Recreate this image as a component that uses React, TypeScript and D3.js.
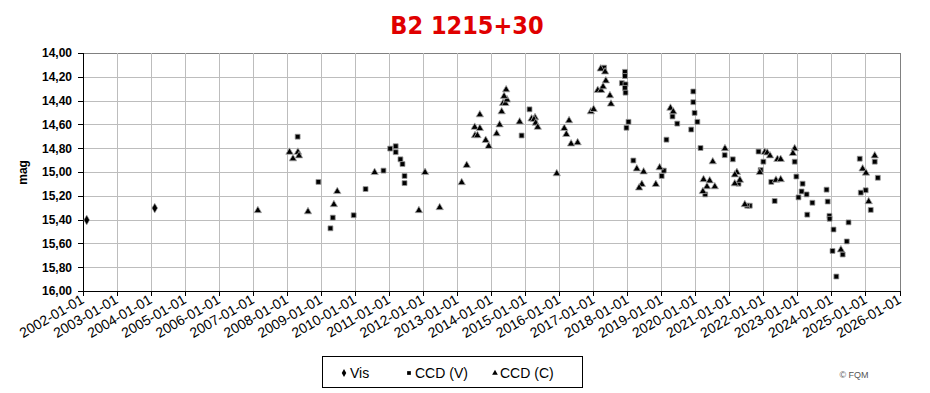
import React from 'react';
import * as d3 from 'd3';

const chartTitle = 'B2 1215+30';
const yAxisTitle = 'mag';
const yTicks = [14.0, 14.2, 14.4, 14.6, 14.8, 15.0, 15.2, 15.4, 15.6, 15.8, 16.0];
const xTickLabels = [
  '2002-01-01', '2003-01-01', '2004-01-01', '2005-01-01', '2006-01-01', '2007-01-01',
  '2008-01-01', '2009-01-01', '2010-01-01', '2011-01-01', '2012-01-01', '2013-01-01',
  '2014-01-01', '2015-01-01', '2016-01-01', '2017-01-01', '2018-01-01', '2019-01-01',
  '2020-01-01', '2021-01-01', '2022-01-01', '2023-01-01', '2024-01-01', '2025-01-01',
  '2026-01-01',
];
const legendLabels = ['Vis', 'CCD (V)', 'CCD (C)'];
const credit = '© FQM';

const visDates = ['2002-02-10', '2004-02-10'];
const visMags = [15.4, 15.3];

const ccdVData: [string, number][] = [
  ['2008-04-22', 14.70], ['2008-12-01', 15.08], ['2009-05-04', 15.38], ['2009-04-09', 15.47],
  ['2009-12-14', 15.36], ['2010-04-21', 15.14], ['2010-10-30', 14.985], ['2011-01-10', 14.80],
  ['2011-03-10', 14.78], ['2011-03-10', 14.83], ['2011-04-30', 14.89], ['2011-05-22', 14.93],
  ['2011-06-13', 15.03], ['2011-06-13', 15.09], ['2014-11-20', 14.69], ['2015-02-13', 14.47],
  ['2017-04-23', 14.12], ['2017-12-03', 14.155], ['2017-12-03', 14.19], ['2017-10-31', 14.25],
  ['2017-12-09', 14.26], ['2017-12-03', 14.29], ['2017-12-09', 14.33], ['2018-01-10', 14.575],
  ['2017-12-19', 14.625], ['2018-03-03', 14.90], ['2019-01-24', 14.985], ['2019-01-01', 15.03],
  ['2019-04-27', 14.53], ['2019-06-17', 14.59], ['2019-02-21', 14.725], ['2019-12-06', 14.32],
  ['2019-12-06', 14.41], ['2019-12-20', 14.50], ['2020-01-19', 14.575], ['2019-11-14', 14.64],
  ['2020-02-22', 14.795], ['2020-04-12', 15.185], ['2020-11-07', 14.855], ['2021-02-02', 14.89],
  ['2021-04-05', 15.095], ['2021-08-03', 15.28], ['2021-07-06', 15.28], ['2021-11-05', 14.825],
  ['2021-12-27', 14.91], ['2021-11-28', 14.98], ['2022-03-22', 15.08], ['2022-04-27', 15.24],
  ['2022-11-28', 14.91], ['2022-12-16', 15.035], ['2023-02-21', 15.095], ['2023-02-10', 15.16],
  ['2023-04-05', 15.185], ['2023-01-08', 15.21], ['2023-06-06', 15.255], ['2023-04-12', 15.355],
  ['2023-11-05', 15.145], ['2023-11-17', 15.245], ['2023-12-06', 15.365], ['2023-12-08', 15.39],
  ['2024-01-19', 15.48], ['2024-01-08', 15.66], ['2024-02-18', 15.875], ['2024-06-28', 15.42],
  ['2024-06-09', 15.58], ['2024-04-26', 15.69], ['2024-10-26', 14.885], ['2025-04-05', 14.91],
  ['2025-05-08', 15.045], ['2024-12-29', 15.15], ['2024-11-06', 15.17], ['2025-02-21', 15.315],
];

const ccdCData: [string, number][] = [
  ['2007-02-20', 15.32], ['2008-01-26', 14.83], ['2008-04-25', 14.83], ['2008-03-03', 14.885],
  ['2008-05-07', 14.86], ['2008-08-11', 15.33], ['2009-05-16', 15.27], ['2009-06-21', 15.16],
  ['2010-07-27', 15.00], ['2011-11-14', 15.32], ['2012-01-19', 15.00], ['2012-06-24', 15.295],
  ['2013-02-15', 15.085], ['2013-04-10', 14.94], ['2013-08-29', 14.515], ['2013-07-05', 14.62],
  ['2013-08-29', 14.63], ['2013-07-08', 14.69], ['2013-08-03', 14.69], ['2013-10-31', 14.73],
  ['2013-12-02', 14.78], ['2014-02-25', 14.675], ['2014-03-29', 14.60], ['2014-04-20', 14.49],
  ['2014-05-05', 14.42], ['2014-05-30', 14.42], ['2014-06-17', 14.39], ['2014-05-16', 14.36],
  ['2014-06-07', 14.305], ['2014-10-30', 14.575], ['2015-03-07', 14.55], ['2015-04-13', 14.54],
  ['2015-04-02', 14.555], ['2015-04-20', 14.585], ['2015-05-12', 14.62], ['2015-12-02', 15.01],
  ['2016-02-21', 14.63], ['2016-04-12', 14.565], ['2016-03-14', 14.68], ['2016-05-04', 14.76],
  ['2016-07-13', 14.75], ['2016-12-02', 14.49], ['2017-01-01', 14.47], ['2017-02-14', 14.31],
  ['2017-03-18', 14.13], ['2017-05-04', 14.155], ['2017-05-12', 14.23], ['2017-03-22', 14.31],
  ['2017-04-12', 14.28], ['2017-06-25', 14.355], ['2017-07-06', 14.425], ['2018-04-09', 14.97],
  ['2018-06-21', 14.995], ['2018-06-02', 15.10], ['2018-05-04', 15.13], ['2018-10-30', 15.10],
  ['2018-12-10', 14.96], ['2019-04-05', 14.46], ['2019-05-05', 14.49], ['2020-03-25', 15.06],
  ['2020-05-30', 15.07], ['2020-05-01', 15.12], ['2020-07-24', 15.12], ['2020-03-18', 15.16],
  ['2020-07-02', 14.91], ['2020-11-10', 14.80], ['2021-03-18', 15.00], ['2021-02-24', 15.02],
  ['2021-04-19', 15.065], ['2021-02-23', 15.095], ['2021-06-11', 15.27], ['2022-01-11', 14.83],
  ['2022-02-06', 14.835], ['2022-03-08', 14.86], ['2021-11-19', 15.00], ['2022-05-27', 14.89],
  ['2022-07-01', 14.89], ['2022-05-11', 15.065], ['2022-07-01', 15.06], ['2022-11-28', 14.80],
  ['2022-11-09', 14.84], ['2025-04-05', 14.86], ['2024-11-26', 14.97], ['2025-01-01', 15.005],
  ['2025-01-30', 15.245], ['2024-04-07', 15.65],
];

const W = 930;
const H = 393;
const plot = { left: 83, right: 900, top: 53.4, bottom: 291.4 };
const parse = d3.utcParse('%Y-%m-%d');

export default function App() {
  const x = d3.scaleUtc()
    .domain([parse(xTickLabels[0])!, parse(xTickLabels[xTickLabels.length - 1])!])
    .range([plot.left, plot.right]);
  const y = d3.scaleLinear().domain([14, 16]).range([plot.top, plot.bottom]);
  const fmt = (v: number) => d3.format('.2f')(v).replace('.', ',');

  const diamond = d3.symbol(d3.symbolDiamond, 28)()!;
  const square = d3.symbol(d3.symbolSquare, 24)()!;
  const triangle = d3.symbol(d3.symbolTriangle, 24)()!;
  const diamondL = d3.symbol(d3.symbolDiamond, 18)()!;
  const squareL = d3.symbol(d3.symbolSquare, 14)()!;
  const triangleL = d3.symbol(d3.symbolTriangle, 14)()!;

  const font = '"Liberation Sans", Arial, sans-serif';

  return (
    <svg width={W} height={H} style={{ position: 'absolute', left: 0, top: 0, background: '#fff' }}
      fontFamily={font}>
      <rect x={0} y={0} width={W} height={H} fill="#fff" />
      <text x={467} y={34} textAnchor="middle" fill="#e00000" fontSize={25} fontWeight="bold"
        fontFamily='"DejaVu Sans Condensed", "Liberation Sans Narrow", "Liberation Sans", sans-serif'>{chartTitle}</text>

      {/* gridlines */}
      {yTicks.map((t, i) => (
        <line key={'hy' + i} x1={plot.left} x2={plot.right} y1={y(t)} y2={y(t)}
          stroke={i === 0 ? '#808080' : '#bdbdbd'} strokeWidth={1} shapeRendering="crispEdges" />
      ))}
      {xTickLabels.map((d, i) => (
        <line key={'vx' + i} x1={x(parse(d)!)} x2={x(parse(d)!)} y1={plot.top} y2={plot.bottom}
          stroke={i === xTickLabels.length - 1 ? '#808080' : '#bdbdbd'} strokeWidth={1} shapeRendering="crispEdges" />
      ))}

      {/* axes */}
      <line x1={plot.left} x2={plot.left} y1={plot.top} y2={plot.bottom + 5} stroke="#000" shapeRendering="crispEdges" />
      <line x1={plot.left - 5} x2={plot.right} y1={plot.bottom} y2={plot.bottom} stroke="#000" shapeRendering="crispEdges" />
      {yTicks.map((t, i) => (
        <g key={'yt' + i}>
          <line x1={plot.left - 5} x2={plot.left} y1={y(t)} y2={y(t)} stroke="#000" shapeRendering="crispEdges" />
          <text x={plot.left - 11} y={y(t) + 4} textAnchor="end" fontSize={12} fontWeight="bold" fill="#000">{fmt(t)}</text>
        </g>
      ))}
      {xTickLabels.map((d, i) => {
        const px = x(parse(d)!);
        return (
          <g key={'xt' + i}>
            <line x1={px} x2={px} y1={plot.bottom} y2={plot.bottom + 5} stroke="#000" shapeRendering="crispEdges" />
            <text transform={`translate(${px + 2},${plot.bottom + 11}) rotate(-30)`} textAnchor="end"
              fontSize={14} fill="#000">{d}</text>
          </g>
        );
      })}
      <text transform={`translate(27,${(plot.top + plot.bottom) / 2}) rotate(-90)`} textAnchor="middle"
        fontSize={12} fontWeight="bold" fill="#000">{yAxisTitle}</text>

      {/* data */}
      {visDates.map((d, i) => (
        <path key={'v' + i} d={diamond} transform={`translate(${x(parse(d)!)},${y(visMags[i])})`}
          fill="#000" stroke="#aaa" strokeWidth={0.6} />
      ))}
      {ccdVData.map(([d, m], i) => (
        <path key={'s' + i} d={square} transform={`translate(${x(parse(d)!)},${y(m)})`}
          fill="#000" stroke="#999" strokeWidth={0.8} />
      ))}
      {ccdCData.map(([d, m], i) => (
        <path key={'t' + i} d={triangle} transform={`translate(${x(parse(d)!)},${y(m)})`}
          fill="#000" stroke="#aaa" strokeWidth={0.8} />
      ))}

      {/* legend */}
      <rect x={322.5} y={356.5} width={260} height={31} fill="#fff" stroke="#000" strokeWidth={1} />
      <path d={diamondL} transform="translate(344,373)" fill="#000" />
      <text x={350} y={378} fontSize={14} fill="#000">{legendLabels[0]}</text>
      <path d={squareL} transform="translate(409,373)" fill="#000" />
      <text x={415} y={378} fontSize={14} fill="#000">{legendLabels[1]}</text>
      <path d={triangleL} transform="translate(495,373)" fill="#000" />
      <text x={500} y={378} fontSize={14} fill="#000">{legendLabels[2]}</text>

      <text x={854} y={378} textAnchor="middle" fontSize={9} fill="#555">{credit}</text>
    </svg>
  );
}
